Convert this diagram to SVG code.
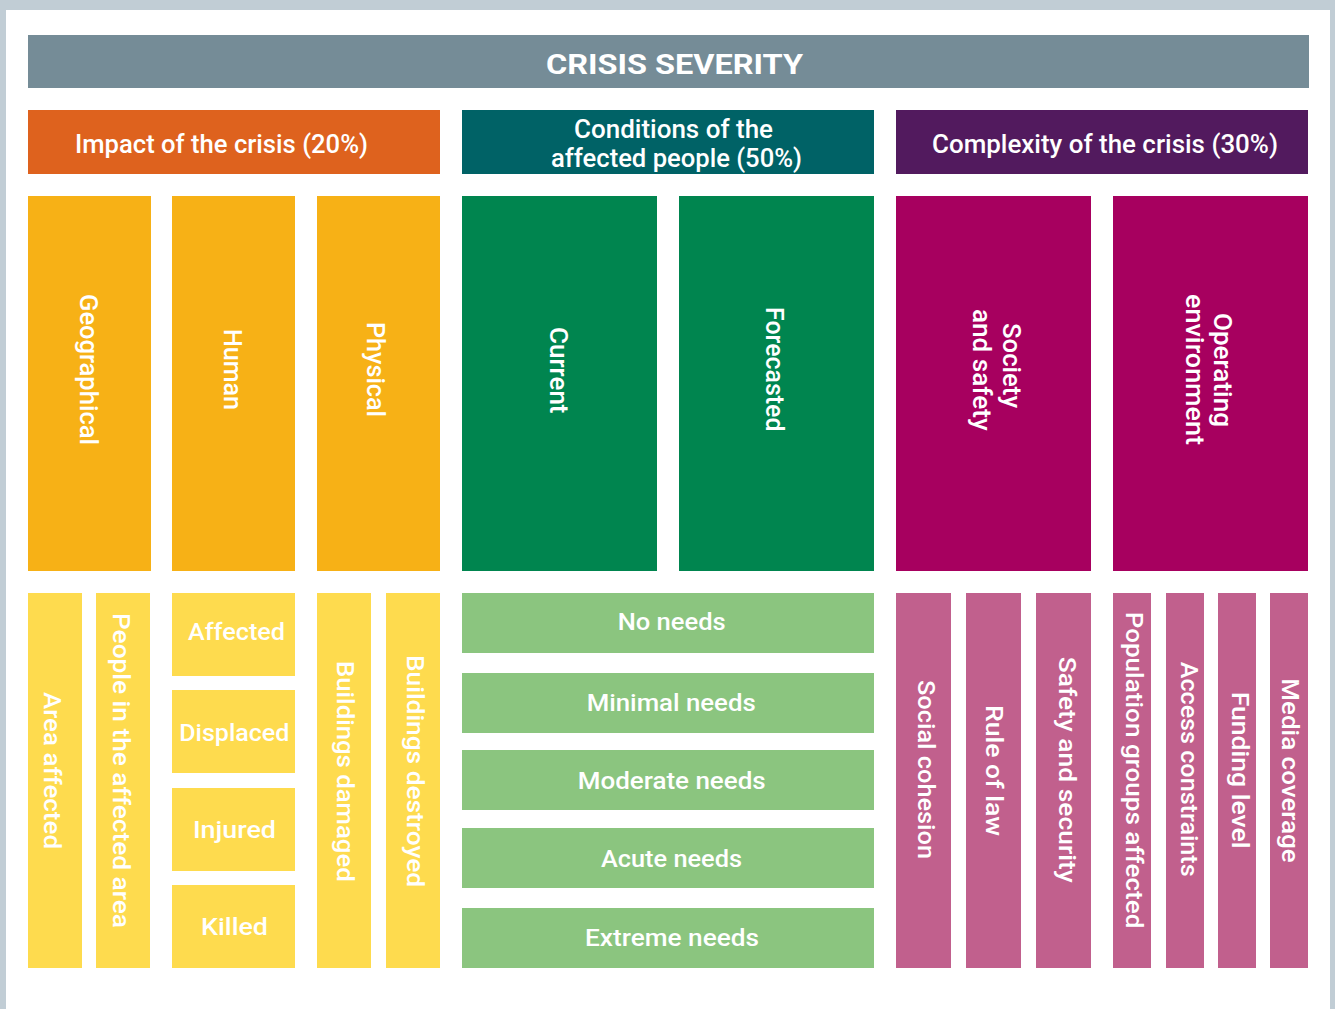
<svg xmlns="http://www.w3.org/2000/svg" width="1335" height="1009" viewBox="0 0 1335 1009">
<style>
text{font-family:Roboto,"Liberation Sans",sans-serif;fill:#ffffff;font-weight:500}
.h{font-size:25.5px}
.ttl{font-size:27px;font-weight:bold}
.v2{font-size:26.5px}
.v3{font-size:24px}
.b3{font-size:24px}
.title{fill:#758c97}
.imp{fill:#de621e}
.con{fill:#006266}
.cpx{fill:#521a5e}
.or{fill:#f7b116}
.gr{fill:#00854f}
.mg{fill:#a7005f}
.ye{fill:#fedb4e}
.lg{fill:#8bc57f}
.pk{fill:#c1608d}
</style>
<rect x="0" y="0" width="1335" height="1009" fill="#c1cdd5"/>
<rect x="6" y="10" width="1324" height="999" fill="#ffffff"/>

<g id="crisis-severity">
<rect class="title" x="28" y="35" width="1281" height="53"/>
<text class="ttl" x="546" y="74" textLength="257" lengthAdjust="spacingAndGlyphs">CRISIS SEVERITY</text>
</g>

<g id="impact">
<rect class="imp" x="28" y="110" width="412" height="64"/>
<text class="h" x="75" y="152.5" textLength="293" lengthAdjust="spacingAndGlyphs">Impact of the crisis (20%)</text>
</g>
<g id="conditions">
<rect class="con" x="462" y="110" width="412" height="64"/>
<text class="h" x="574" y="138" textLength="199" lengthAdjust="spacingAndGlyphs">Conditions of the</text>
<text class="h" x="551" y="166.5" textLength="251" lengthAdjust="spacingAndGlyphs">affected people (50%)</text>
</g>
<g id="complexity">
<rect class="cpx" x="896" y="110" width="412" height="64"/>
<text class="h" x="932" y="152.5" textLength="346" lengthAdjust="spacingAndGlyphs">Complexity of the crisis (30%)</text>
</g>

<g id="geographical">
<rect class="or" x="28" y="196" width="123" height="375"/>
<text class="v2" transform="translate(79.5,294) rotate(90)" textLength="151" lengthAdjust="spacingAndGlyphs">Geographical</text>
</g>
<g id="human">
<rect class="or" x="172" y="196" width="123" height="375"/>
<text class="v2" transform="translate(224.3,329) rotate(90)" textLength="81" lengthAdjust="spacingAndGlyphs">Human</text>
</g>
<g id="physical">
<rect class="or" x="317" y="196" width="123" height="375"/>
<text class="v2" transform="translate(366.7,322) rotate(90)" textLength="95" lengthAdjust="spacingAndGlyphs">Physical</text>
</g>
<g id="current">
<rect class="gr" x="462" y="196" width="195" height="375"/>
<text class="v2" transform="translate(550,327) rotate(90)" textLength="86.5" lengthAdjust="spacingAndGlyphs">Current</text>
</g>
<g id="forecasted">
<rect class="gr" x="679" y="196" width="195" height="375"/>
<text class="v2" transform="translate(766,307) rotate(90)" textLength="124.5" lengthAdjust="spacingAndGlyphs">Forecasted</text>
</g>
<g id="society-and-safety">
<rect class="mg" x="896" y="196" width="195" height="375"/>
<text class="v2" transform="translate(1002.7,323) rotate(90)" textLength="85" lengthAdjust="spacingAndGlyphs">Society</text>
<text class="v2" transform="translate(972.5,309) rotate(90)" textLength="121.7" lengthAdjust="spacingAndGlyphs">and safety</text>
</g>
<g id="operating-environment">
<rect class="mg" x="1113" y="196" width="195" height="375"/>
<text class="v2" transform="translate(1214,313) rotate(90)" textLength="114" lengthAdjust="spacingAndGlyphs">Operating</text>
<text class="v2" transform="translate(1186,294) rotate(90)" textLength="151" lengthAdjust="spacingAndGlyphs">environment</text>
</g>

<g id="area-affected">
<rect class="ye" x="28" y="593" width="54" height="375"/>
<text class="v3" transform="translate(43.7,692) rotate(90)" textLength="157" lengthAdjust="spacingAndGlyphs">Area affected</text>
</g>
<g id="people-in-the-affected-area">
<rect class="ye" x="96" y="593" width="54" height="375"/>
<text class="v3" transform="translate(113,613) rotate(90)" textLength="315" lengthAdjust="spacingAndGlyphs">People in the affected area</text>
</g>
<g id="affected">
<rect class="ye" x="172" y="593" width="123" height="83"/>
<text class="b3" x="188" y="639.5" textLength="97" lengthAdjust="spacingAndGlyphs">Affected</text>
</g>
<g id="displaced">
<rect class="ye" x="172" y="690" width="123" height="83"/>
<text class="b3" x="179.3" y="741" textLength="110" lengthAdjust="spacingAndGlyphs">Displaced</text>
</g>
<g id="injured">
<rect class="ye" x="172" y="788" width="123" height="83"/>
<text class="b3" x="193" y="838" textLength="83" lengthAdjust="spacingAndGlyphs">Injured</text>
</g>
<g id="killed">
<rect class="ye" x="172" y="885" width="123" height="83"/>
<text class="b3" x="201" y="935" textLength="67" lengthAdjust="spacingAndGlyphs">Killed</text>
</g>
<g id="buildings-damaged">
<rect class="ye" x="317" y="593" width="54" height="375"/>
<text class="v3" transform="translate(337,661) rotate(90)" textLength="220.7" lengthAdjust="spacingAndGlyphs">Buildings damaged</text>
</g>
<g id="buildings-destroyed">
<rect class="ye" x="386" y="593" width="54" height="375"/>
<text class="v3" transform="translate(407,655) rotate(90)" textLength="232" lengthAdjust="spacingAndGlyphs">Buildings destroyed</text>
</g>

<g id="no-needs">
<rect class="lg" x="462" y="593" width="412" height="60"/>
<text class="b3" x="617.7" y="630" textLength="108" lengthAdjust="spacingAndGlyphs">No needs</text>
</g>
<g id="minimal-needs">
<rect class="lg" x="462" y="673" width="412" height="60"/>
<text class="b3" x="586.7" y="710.5" textLength="169" lengthAdjust="spacingAndGlyphs">Minimal needs</text>
</g>
<g id="moderate-needs">
<rect class="lg" x="462" y="750" width="412" height="60"/>
<text class="b3" x="577.7" y="789" textLength="188" lengthAdjust="spacingAndGlyphs">Moderate needs</text>
</g>
<g id="acute-needs">
<rect class="lg" x="462" y="828" width="412" height="60"/>
<text class="b3" x="601" y="866.5" textLength="141" lengthAdjust="spacingAndGlyphs">Acute needs</text>
</g>
<g id="extreme-needs">
<rect class="lg" x="462" y="908" width="412" height="60"/>
<text class="b3" x="585" y="945.5" textLength="174" lengthAdjust="spacingAndGlyphs">Extreme needs</text>
</g>

<g id="social-cohesion">
<rect class="pk" x="896" y="593" width="55" height="375"/>
<text class="v3" transform="translate(918,680) rotate(90)" textLength="179" lengthAdjust="spacingAndGlyphs">Social cohesion</text>
</g>
<g id="rule-of-law">
<rect class="pk" x="966" y="593" width="55" height="375"/>
<text class="v3" transform="translate(986,705) rotate(90)" textLength="131" lengthAdjust="spacingAndGlyphs">Rule of law</text>
</g>
<g id="safety-and-security">
<rect class="pk" x="1036" y="593" width="55" height="375"/>
<text class="v3" transform="translate(1059,656.7) rotate(90)" textLength="226" lengthAdjust="spacingAndGlyphs">Safety and security</text>
</g>
<g id="population-groups-affected">
<rect class="pk" x="1113" y="593" width="38" height="375"/>
<text class="v3" transform="translate(1126.3,611.7) rotate(90)" textLength="316.7" lengthAdjust="spacingAndGlyphs">Population groups affected</text>
</g>
<g id="access-constraints">
<rect class="pk" x="1166" y="593" width="38" height="375"/>
<text class="v3" transform="translate(1181.3,661.7) rotate(90)" textLength="215" lengthAdjust="spacingAndGlyphs">Access constraints</text>
</g>
<g id="funding-level">
<rect class="pk" x="1218" y="593" width="38" height="375"/>
<text class="v3" transform="translate(1232.3,691.7) rotate(90)" textLength="156.7" lengthAdjust="spacingAndGlyphs">Funding level</text>
</g>
<g id="media-coverage">
<rect class="pk" x="1270" y="593" width="38" height="375"/>
<text class="v3" transform="translate(1282,678.3) rotate(90)" textLength="184.4" lengthAdjust="spacingAndGlyphs">Media coverage</text>
</g>
</svg>
